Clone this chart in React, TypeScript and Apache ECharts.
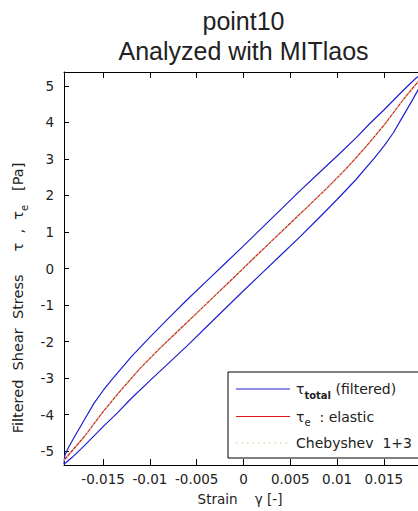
import React, { useEffect, useRef } from "react";
import * as echarts from "echarts";

// Tick labels
const xTicks = [-0.015, -0.01, -0.005, 0, 0.005, 0.01, 0.015];
const yTicks = [-5, -4, -3, -2, -1, 0, 1, 2, 3, 4, 5];

// tau_total (filtered), upper branch (strain decreasing)
const upperStrain = [0.01918, 0.0183, 0.017, 0.016, 0.015, 0.0135, 0.012, 0.01, 0.008, 0.006, 0.004, 0.002, 0, -0.002, -0.004, -0.006, -0.008, -0.01, -0.012, -0.014, -0.015, -0.016, -0.017, -0.018, -0.0187, -0.0191, -0.01918];
const upperStress = [5.38, 5.18, 4.86, 4.6, 4.34, 3.97, 3.57, 3.08, 2.6, 2.12, 1.62, 1.12, 0.62, 0.13, -0.36, -0.85, -1.36, -1.88, -2.42, -3.02, -3.34, -3.7, -4.14, -4.58, -4.9, -5.12, -5.36];

// tau_total (filtered), lower branch (strain increasing)
const lowerStrain = [-0.01918, -0.0183, -0.017, -0.016, -0.015, -0.0135, -0.012, -0.01, -0.008, -0.006, -0.004, -0.002, 0, 0.002, 0.004, 0.006, 0.008, 0.01, 0.012, 0.014, 0.015, 0.016, 0.017, 0.018, 0.0187, 0.0191, 0.01918];
const lowerStress = [-5.36, -5.17, -4.85, -4.59, -4.33, -3.96, -3.56, -3.07, -2.59, -2.11, -1.61, -1.11, -0.61, -0.12, 0.37, 0.86, 1.37, 1.89, 2.43, 3.03, 3.35, 3.71, 4.15, 4.59, 4.91, 5.13, 5.38];

// tau_e : elastic
const elasticStrain = [-0.01918, -0.017, -0.015, -0.013, -0.011, -0.009, -0.007, -0.005, -0.003, -0.001, 0, 0.001, 0.003, 0.005, 0.007, 0.009, 0.011, 0.013, 0.015, 0.017, 0.01918];
const elasticStress = [-5.25, -4.6, -3.92, -3.3, -2.72, -2.2, -1.71, -1.22, -0.73, -0.24, 0.01, 0.26, 0.75, 1.24, 1.73, 2.22, 2.74, 3.31, 3.92, 4.6, 5.28];

// Chebyshev 1+3 fit
const chebStrain = [-0.01918, -0.017, -0.015, -0.013, -0.011, -0.009, -0.007, -0.005, -0.003, -0.001, 0, 0.001, 0.003, 0.005, 0.007, 0.009, 0.011, 0.013, 0.015, 0.017, 0.01918];
const chebStress = [-5.25, -4.6, -3.92, -3.3, -2.72, -2.2, -1.71, -1.22, -0.73, -0.24, 0.01, 0.26, 0.75, 1.24, 1.73, 2.22, 2.74, 3.31, 3.92, 4.6, 5.28];

const pairs = (xs: number[], ys: number[]) => xs.map((x, i) => [x, ys[i]]);

const BLUE = "#2020d0";
const RED = "#e01818";
const GREEN = "#a8e090";
const FONT = "DejaVu Sans";

export default function App() {
  const ref = useRef<HTMLDivElement>(null);

  useEffect(() => {
    if (!ref.current) return;
    const chart = echarts.init(ref.current, undefined, { renderer: "svg" });

    const axisCommon = {
      type: "value" as const,
      axisLine: { show: true, onZero: false, lineStyle: { color: "#000", width: 1 } },
      splitLine: { show: false },
    };

    chart.setOption({
      animation: false,
      backgroundColor: "#fff",
      grid: { left: 64, top: 72, width: 359, height: 393, containLabel: false },
      xAxis: [
        {
          ...axisCommon,
          min: -0.01918,
          max: 0.01918,
          position: "bottom",
          axisTick: { show: true, inside: true, length: 6, customValues: xTicks, lineStyle: { color: "#000" } },
          axisLabel: {
            show: true,
            customValues: xTicks,
            margin: 7,
            color: "#222",
            fontFamily: FONT,
            fontSize: 13.5,
            formatter: (v: number) => String(v),
          },
        },
        {
          ...axisCommon,
          min: -0.01918,
          max: 0.01918,
          position: "top",
          axisTick: { show: true, inside: true, length: 6, customValues: xTicks, lineStyle: { color: "#000" } },
          axisLabel: { show: false },
        },
      ],
      yAxis: [
        {
          ...axisCommon,
          min: -5.38,
          max: 5.38,
          position: "left",
          axisTick: { show: true, inside: true, length: 5, customValues: yTicks, lineStyle: { color: "#000" } },
          axisLabel: {
            show: true,
            customValues: yTicks,
            margin: 10,
            color: "#222",
            fontFamily: FONT,
            fontSize: 13.5,
          },
        },
        {
          ...axisCommon,
          min: -5.38,
          max: 5.38,
          position: "right",
          axisTick: { show: true, inside: true, length: 5, customValues: yTicks, lineStyle: { color: "#000" } },
          axisLabel: { show: false },
        },
      ],
      series: [
        {
          name: "upper",
          type: "line",
          data: pairs(upperStrain, upperStress),
          showSymbol: false,
          smooth: false,
          lineStyle: { color: BLUE, width: 1.2 },
          itemStyle: { color: BLUE },
        },
        {
          name: "lower",
          type: "line",
          data: pairs(lowerStrain, lowerStress),
          showSymbol: false,
          smooth: false,
          lineStyle: { color: BLUE, width: 1.2 },
          itemStyle: { color: BLUE },
        },
        {
          name: "elastic",
          type: "line",
          data: pairs(elasticStrain, elasticStress),
          showSymbol: false,
          smooth: false,
          lineStyle: { color: RED, width: 1.2 },
          itemStyle: { color: RED },
        },
        {
          name: "cheb",
          type: "line",
          data: pairs(chebStrain, chebStress),
          showSymbol: false,
          smooth: false,
          lineStyle: { color: GREEN, width: 1.2, type: [1.5, 3] },
          itemStyle: { color: GREEN },
        },
      ],
      graphic: [
        {
          type: "text",
          x: 243.5,
          y: 21,
          style: { text: "point10", fontFamily: "Liberation Sans", fontSize: 25, fill: "#222", textAlign: "center", textVerticalAlign: "middle" },
        },
        {
          type: "text",
          x: 243.5,
          y: 51,
          style: { text: "Analyzed with MITlaos", fontFamily: "Liberation Sans", fontSize: 25, fill: "#222", textAlign: "center", textVerticalAlign: "middle" },
        },
        {
          type: "text",
          x: 240,
          y: 499,
          style: { text: "Strain    γ [-]", fontFamily: FONT, fontSize: 13.5, fill: "#222", textAlign: "center", textVerticalAlign: "middle" },
        },
        {
          type: "text",
          x: 18,
          y: 298,
          rotation: Math.PI / 2,
          style: {
            text: "Filtered  Shear  Stress     τ  ,  τ{e|e}   [Pa]",
            fontFamily: FONT,
            fontSize: 14.5,
            fill: "#222",
            textAlign: "center",
            textVerticalAlign: "middle",
            lineHeight: 22,
            rich: {
              e: { fontFamily: FONT, fontSize: 10, fill: "#222", verticalAlign: "bottom", lineHeight: 9 },
            },
          },
        },
        {
          type: "rect",
          z: 100,
          shape: { x: 228, y: 372, width: 200, height: 86 },
          style: { fill: "#fff", stroke: "#000", lineWidth: 1 },
        },
        {
          type: "line",
          z: 101,
          shape: { x1: 236, y1: 389, x2: 290, y2: 389 },
          style: { stroke: BLUE, lineWidth: 1.2 },
        },
        {
          type: "line",
          z: 101,
          shape: { x1: 236, y1: 416.5, x2: 290, y2: 416.5 },
          style: { stroke: RED, lineWidth: 1.2 },
        },
        {
          type: "line",
          z: 101,
          shape: { x1: 236, y1: 443, x2: 290, y2: 443 },
          style: { stroke: GREEN, lineWidth: 1.2, lineDash: [1.5, 4] },
        },
        {
          type: "text",
          z: 101,
          x: 296,
          y: 389,
          style: {
            text: "τ{s|total} (filtered)",
            fontFamily: FONT,
            fontSize: 14,
            fill: "#222",
            textAlign: "left",
            textVerticalAlign: "middle",
            lineHeight: 22,
            rich: { s: { fontFamily: FONT, fontSize: 10, fontWeight: "bold", fill: "#222", verticalAlign: "bottom", lineHeight: 10 } },
          },
        },
        {
          type: "text",
          z: 101,
          x: 296,
          y: 416.5,
          style: {
            text: "τ{s|e}  : elastic",
            fontFamily: FONT,
            fontSize: 14,
            fill: "#222",
            textAlign: "left",
            textVerticalAlign: "middle",
            lineHeight: 22,
            rich: { s: { fontFamily: FONT, fontSize: 10, fill: "#222", verticalAlign: "bottom", lineHeight: 10 } },
          },
        },
        {
          type: "text",
          z: 101,
          x: 296,
          y: 443,
          style: { text: "Chebyshev  1+3", fontFamily: FONT, fontSize: 14, fill: "#222", textAlign: "left", textVerticalAlign: "middle" },
        },
      ],
    });

    return () => chart.dispose();
  }, []);

  return (
    <div style={{ position: "fixed", left: 0, top: 0, width: 418, height: 511, overflow: "hidden", background: "#fff" }}>
      <div ref={ref} style={{ width: 432, height: 511 }} />
    </div>
  );
}
